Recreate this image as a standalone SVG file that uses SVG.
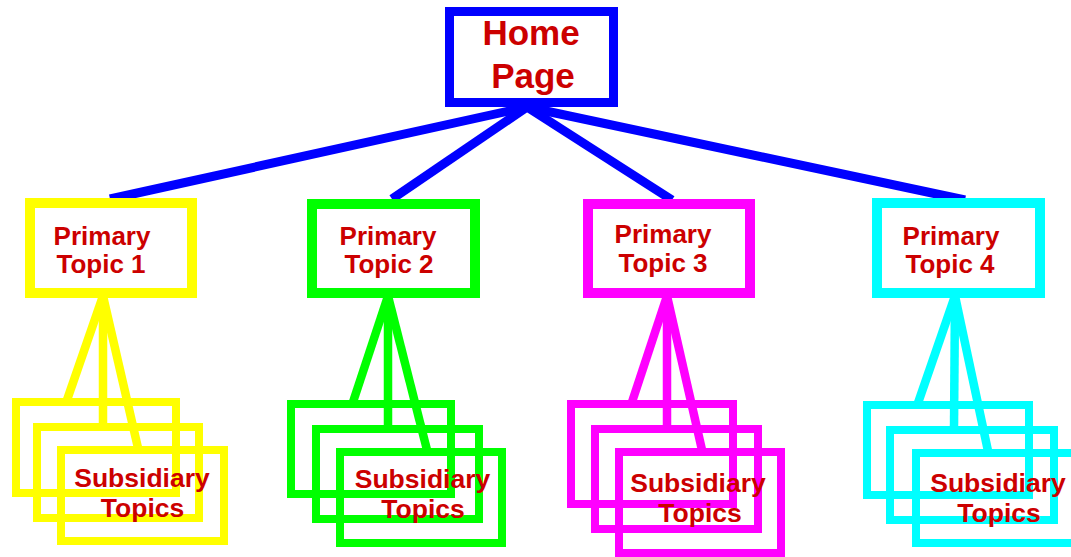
<svg xmlns="http://www.w3.org/2000/svg" width="1071" height="557" viewBox="0 0 1071 557">
<style>
.box{fill:none}
.home{stroke:#0000ff;stroke-width:9}
.y{stroke:#ffff00}
.g{stroke:#00ff00}
.m{stroke:#ff00ff}
.c{stroke:#00ffff}
.topic{stroke-width:10}
.sub{stroke-width:8}
.lbl{font-family:"Liberation Sans",Arial,sans-serif;font-weight:bold;fill:#cc0000;text-anchor:middle}
.t1{font-size:35px}
.t2{font-size:26px}
.t3{font-size:26.5px}
.bl{stroke:#0000ff;stroke-width:9;fill:none}
.sl{stroke-width:8.5;fill:none}
</style>
<rect width="1071" height="557" fill="#ffffff"/>
<g id="connectors">
<line class="bl" x1="527" y1="107" x2="110" y2="199"/>
<line class="bl" x1="527" y1="107" x2="392" y2="199"/>
<line class="bl" x1="527" y1="107" x2="672" y2="200"/>
<line class="bl" x1="527" y1="107" x2="965" y2="200"/>
<line class="sl y" x1="103" y1="296" x2="67" y2="400"/>
<line class="sl y" x1="103" y1="296" x2="103" y2="425"/>
<line class="sl y" x1="103" y1="296" x2="138" y2="448"/>
<line class="sl g" x1="388" y1="296" x2="353" y2="402"/>
<line class="sl g" x1="388" y1="296" x2="388" y2="425"/>
<line class="sl g" x1="388" y1="296" x2="427" y2="450"/>
<line class="sl m" x1="667" y1="296" x2="632" y2="402"/>
<line class="sl m" x1="667" y1="296" x2="667" y2="427"/>
<line class="sl m" x1="667" y1="296" x2="702" y2="450"/>
<line class="sl c" x1="955" y1="296" x2="918" y2="403"/>
<line class="sl c" x1="955" y1="296" x2="954" y2="428"/>
<line class="sl c" x1="955" y1="296" x2="988" y2="451"/>
</g>
<g id="home">
<rect class="box home" x="449.5" y="11.5" width="164" height="91"/>
<text class="lbl t1" x="531" y="45">Home</text>
<text class="lbl t1" x="533" y="88">Page</text>
</g>
<g id="topic1">
<rect class="box y topic" x="30" y="203" width="162" height="90"/>
<text class="lbl t2" x="102" y="245">Primary</text>
<text class="lbl t2" x="101" y="273">Topic 1</text>
</g>
<g id="topic2">
<rect class="box g topic" x="312" y="204" width="163" height="89"/>
<text class="lbl t2" x="388" y="245">Primary</text>
<text class="lbl t2" x="389" y="273">Topic 2</text>
</g>
<g id="topic3">
<rect class="box m topic" x="588" y="204" width="162" height="89"/>
<text class="lbl t2" x="663" y="243">Primary</text>
<text class="lbl t2" x="663" y="272">Topic 3</text>
</g>
<g id="topic4">
<rect class="box c topic" x="877" y="203" width="163" height="90"/>
<text class="lbl t2" x="951" y="245">Primary</text>
<text class="lbl t2" x="950" y="273">Topic 4</text>
</g>
<g id="sub1">
<rect class="box y sub" x="16" y="402" width="160" height="91"/>
<rect class="box y sub" x="37" y="427" width="162" height="91"/>
<rect class="box y sub" x="61" y="450" width="163" height="91"/>
<text class="lbl t3" x="142" y="487">Subsidiary</text>
<text class="lbl t3" x="142.5" y="517">Topics</text>
</g>
<g id="sub2">
<rect class="box g sub" x="291" y="404" width="160" height="90"/>
<rect class="box g sub" x="316" y="429" width="163" height="90"/>
<rect class="box g sub" x="340" y="452" width="162" height="91"/>
<text class="lbl t3" x="422.5" y="488">Subsidiary</text>
<text class="lbl t3" x="423" y="518">Topics</text>
</g>
<g id="sub3">
<rect class="box m sub" x="571" y="404" width="162" height="100"/>
<rect class="box m sub" x="595" y="429" width="163" height="100"/>
<rect class="box m sub" x="619" y="452" width="162" height="101"/>
<text class="lbl t3" x="698" y="492">Subsidiary</text>
<text class="lbl t3" x="700" y="522">Topics</text>
</g>
<g id="sub4">
<rect class="box c sub" x="867" y="405" width="162" height="90"/>
<rect class="box c sub" x="890" y="430" width="164" height="90"/>
<rect class="box c sub" x="916" y="453" width="170" height="90"/>
<text class="lbl t3" x="998" y="492">Subsidiary</text>
<text class="lbl t3" x="999" y="522">Topics</text>
</g>
</svg>
